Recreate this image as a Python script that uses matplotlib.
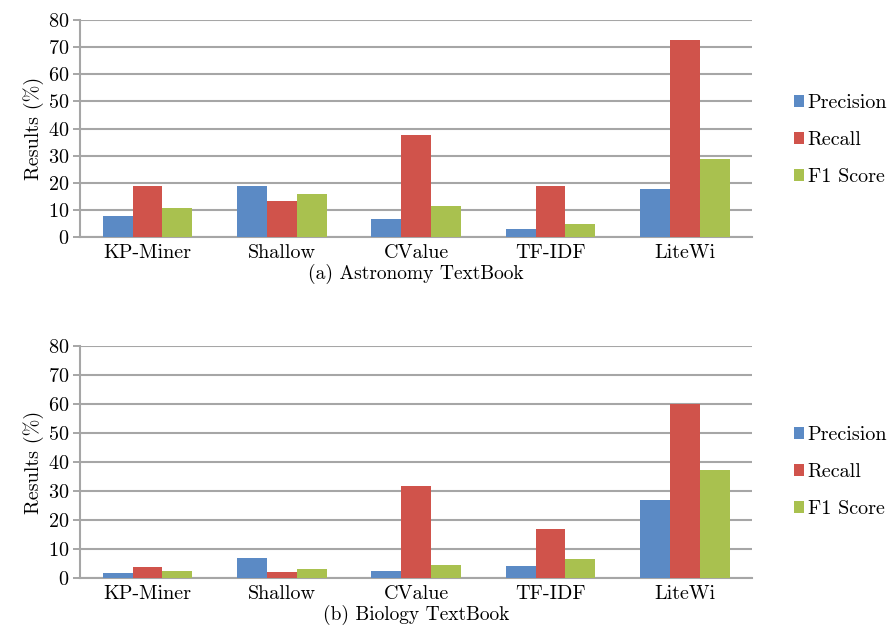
import numpy as np
import matplotlib.pyplot as plt

plt.rcParams['font.family'] = ['cmr10', 'DejaVu Serif']
plt.rcParams['axes.formatter.use_mathtext'] = True

# data
methods = ['KP-Miner', 'Shallow', 'CValue', 'TF-IDF', 'LiteWi']
series = ['Precision', 'Recall', 'F1 Score']

astro_precision = [7.8, 19.0, 6.7, 2.9, 17.9]
astro_recall = [18.8, 13.4, 37.5, 18.8, 72.6]
astro_f1 = [10.9, 15.8, 11.5, 4.9, 28.6]

bio_precision = [1.7, 7.1, 2.4, 4.1, 27.0]
bio_recall = [3.9, 2.1, 31.8, 17.0, 60.1]
bio_f1 = [2.4, 3.3, 4.5, 6.7, 37.4]

colors = ['#5B8AC5', '#D0534B', '#A9C14F']
grid_col = '#A6A6A6'
fs = 14.5

fig = plt.figure(figsize=(8.92, 6.41), dpi=100)
ax1 = fig.add_axes([0.090, 0.630, 0.753, 0.339])
ax2 = fig.add_axes([0.090, 0.098, 0.753, 0.362])

panels = [
    (ax1, [astro_precision, astro_recall, astro_f1], '(a) Astronomy TextBook', 0.447),
    (ax2, [bio_precision, bio_recall, bio_f1], '(b) Biology TextBook', 0.457),
]

x = np.arange(len(methods))
w = 0.222
for ax, vals, caption, leg_y in panels:
    for i, (v, c, name) in enumerate(zip(vals, colors, series)):
        ax.bar(x + (i - 1) * w, v, w, color=c, label=name, zorder=3)
    ax.set_xlim(-0.5, len(methods) - 0.5)
    ax.set_ylim(0, 80)
    ax.set_yticks(range(0, 81, 10))
    ax.set_xticks(x)
    ax.set_xticklabels(methods, fontsize=fs)
    ax.tick_params(axis='y', labelsize=fs, length=5, color=grid_col, width=1.4, pad=3)
    ax.tick_params(axis='x', length=0, pad=5)
    ax.yaxis.grid(True, color=grid_col, linewidth=1.5, zorder=0)
    for s in ['top', 'right']:
        ax.spines[s].set_visible(False)
    for s in ['left', 'bottom']:
        ax.spines[s].set_color(grid_col)
        ax.spines[s].set_linewidth(1.5)
    ax.set_ylabel('Results (%)', fontsize=fs, labelpad=3)
    ax.set_xlabel(caption, fontsize=fs - 0.5, labelpad=1)
    ax.legend(loc='center left', bbox_to_anchor=(1.035, leg_y), frameon=False,
              fontsize=fs, handlelength=0.5, handleheight=0.5, handletextpad=0.2,
              labelspacing=0.95)

plt.savefig('out.png', dpi=100)
